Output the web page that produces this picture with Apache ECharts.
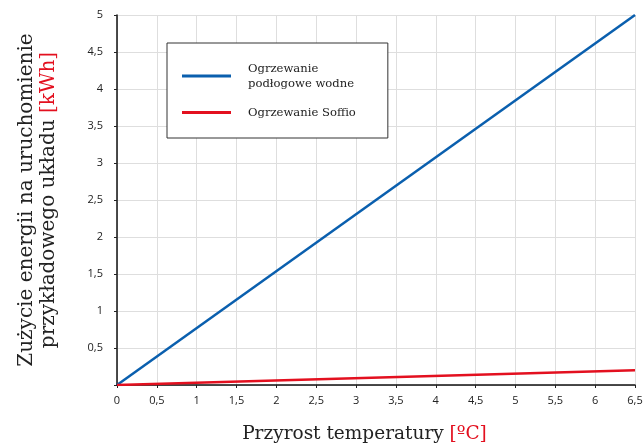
<!DOCTYPE html>
<html>
<head>
<meta charset="utf-8">
<script src="https://cdn.jsdelivr.net/npm/echarts@6/dist/echarts.min.js"></script>
<style>html,body{margin:0;padding:0;background:#fff}#c{width:644px;height:443px}</style>
</head>
<body>
<div id="c"></div>
<script>
const seriesNames = ['Ogrzewanie\npodłogowe wodne', 'Ogrzewanie Soffio'];
const xValues = [0, 6.5];
const floorHeating = [0, 5];
const soffio = [0, 0.2];
const colors = ['#0a5fae', '#e3101f'];

const chart = echarts.init(document.getElementById('c'));
const fmt = v => String(v).replace('.', ',');
const serif = '"DejaVu Serif", serif';
const sans = '"Open Sans", sans-serif';

chart.setOption({
  animation: false,
  grid: { left: 117, right: 9, top: 15, bottom: 58, outerBoundsMode: 'none', containLabel: false },
  legend: {
    orient: 'vertical',
    left: 167, top: 43,
    padding: [18, 32, 18, 15],
    borderColor: '#333', borderWidth: 1,
    backgroundColor: '#fff',
    itemWidth: 49, itemHeight: 3,
    itemGap: 14,
    icon: 'rect',
    textStyle: { fontFamily: serif, fontSize: 11.6, color: '#222', lineHeight: 15, padding: [0, 0, 0, 12] },
    data: seriesNames
  },
  xAxis: {
    type: 'value', min: 0, max: 6.5, interval: 0.5,
    name: 'Przyrost temperatury {r|[ºC]}',
    nameLocation: 'middle', nameGap: 40,
    nameTextStyle: { fontFamily: serif, fontSize: 18.5, color: '#222', padding: [0, 23, 0, 0], rich: { r: { fontFamily: serif, fontSize: 18.5, color: '#e3101f' } } },
    axisLine: { lineStyle: { color: '#111', width: 1.5 } },
    axisTick: { show: true, length: 3, lineStyle: { color: '#222' } },
    axisLabel: { formatter: v => fmt(v), fontFamily: sans, fontSize: 11, color: '#222', margin: 10 },
    splitLine: { show: true, lineStyle: { color: '#dedede' } }
  },
  yAxis: {
    type: 'value', min: 0, max: 5, interval: 0.5,
    name: 'Zużycie energii na uruchomienie\nprzykładowego układu {r|[kWh]}',
    nameLocation: 'middle', nameGap: 57, nameRotate: 90,
    nameTextStyle: { fontFamily: serif, fontSize: 20, color: '#222', lineHeight: 22, rich: { r: { fontFamily: serif, fontSize: 20, color: '#e3101f', lineHeight: 22 } } },
    axisLine: { show: true, lineStyle: { color: '#111', width: 1.5 } },
    axisTick: { show: true, length: 3, lineStyle: { color: '#222' } },
    axisLabel: { formatter: v => v === 0 ? '' : fmt(v), fontFamily: sans, fontSize: 11, color: '#222', margin: 14 },
    splitLine: { show: true, lineStyle: { color: '#dedede' } }
  },
  series: [
    { name: seriesNames[0], type: 'line', data: xValues.map((x, i) => [x, floorHeating[i]]), showSymbol: false, lineStyle: { color: colors[0], width: 2.5 }, itemStyle: { color: colors[0] } },
    { name: seriesNames[1], type: 'line', data: xValues.map((x, i) => [x, soffio[i]]), showSymbol: false, lineStyle: { color: colors[1], width: 2.5 }, itemStyle: { color: colors[1] } }
  ]
});
</script>
</body>
</html>
